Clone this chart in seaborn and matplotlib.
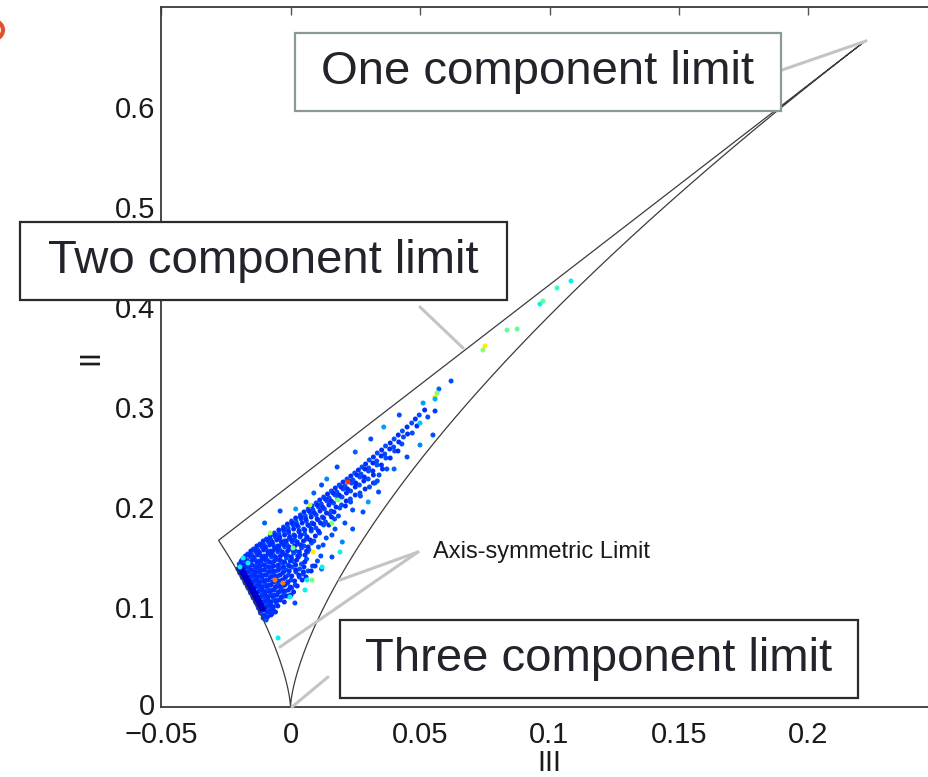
import numpy as np
import pandas as pd
import matplotlib
matplotlib.use("Agg")
import matplotlib.pyplot as plt
from matplotlib.patches import Rectangle, Circle
from matplotlib.lines import Line2D
from matplotlib.transforms import ScaledTranslation
import seaborn as sns

# ---------------------------------------------------------------- data
x_ticks = [-0.05, 0.0, 0.05, 0.1, 0.15, 0.2]
x_tick_labels = ["\u22120.05", "0", "0.05", "0.1", "0.15", "0.2"]
y_ticks = [0.0, 0.1, 0.2, 0.3, 0.4, 0.5, 0.6]
y_tick_labels = ["0", "0.1", "0.2", "0.3", "0.4", "0.5", "0.6"]

# eigenvalues of the anisotropy tensor b_ij at the corners of the map
eig_isotropic = [0.0, 0.0, 0.0]
eig_two_comp_axi = [1 / 6, 1 / 6, -1 / 3]
eig_one_comp = [2 / 3, -1 / 3, -1 / 3]

# measured states (III, II), bulk of the samples
bulk_III = [
    -0.0106, -0.0094,
    -0.0116, -0.0101, -0.0087, -0.0072,
    -0.0124, -0.0110, -0.0097, -0.0081, -0.0064,
    -0.0133, -0.0119, -0.0104, -0.0090, -0.0073, -0.0055,
    -0.0144, -0.0129, -0.0114, -0.0098, -0.0083, -0.0066, -0.0049, -0.0031,
    -0.0154, -0.0139, -0.0125, -0.0109, -0.0094, -0.0078, -0.0062, -0.0045, -0.0026, -0.0008,
    -0.0164, -0.0150, -0.0135, -0.0120, -0.0104, -0.0089, -0.0071, -0.0055, -0.0037, -0.0020, 0.0004,
    -0.0175, -0.0160, -0.0146, -0.0131, -0.0116, -0.0100, -0.0084, -0.0067, -0.0050, -0.0032, -0.0012, 0.0018,
    -0.0185, -0.0170, -0.0156, -0.0141, -0.0126, -0.0110, -0.0093, -0.0077, -0.0059, -0.0041, -0.0022, 0.0002, 0.0034,
    -0.0196, -0.0181, -0.0166, -0.0151, -0.0135, -0.0119, -0.0103, -0.0086, -0.0068, -0.0049, -0.0030, -0.0008, 0.0021, 0.0049,
    -0.0203, -0.0188, -0.0173, -0.0158, -0.0142, -0.0126, -0.0110, -0.0093, -0.0075, -0.0057, -0.0038, -0.0017, 0.0006, 0.0035, 0.0068,
    -0.0198, -0.0183, -0.0168, -0.0152, -0.0137, -0.0121, -0.0104, -0.0087, -0.0069, -0.0051, -0.0031, -0.0010, 0.0014, 0.0042, 0.0085,
    -0.0184, -0.0169, -0.0154, -0.0139, -0.0123, -0.0107, -0.0090, -0.0073, -0.0055, -0.0036, -0.0016, 0.0006, 0.0031, 0.0062, 0.0104,
    -0.0165, -0.0150, -0.0134, -0.0118, -0.0102, -0.0085, -0.0067, -0.0049, -0.0030, -0.0010, 0.0012, 0.0036, 0.0066, 0.0117,
    -0.0143, -0.0127, -0.0111, -0.0094, -0.0077, -0.0059, -0.0041, -0.0022, -0.0002, 0.0019, 0.0043, 0.0071, 0.0108,
    -0.0118, -0.0102, -0.0085, -0.0068, -0.0050, -0.0032, -0.0013, 0.0007, 0.0028, 0.0052, 0.0081, 0.0126,
    -0.0093, -0.0076, -0.0059, -0.0041, -0.0023, -0.0004, 0.0016, 0.0037, 0.0061, 0.0090, 0.0138,
    -0.0062, -0.0044, -0.0026, -0.0007, 0.0013, 0.0033, 0.0055, 0.0080, 0.0112, 0.0160,
    -0.0027, -0.0009, 0.0010, 0.0030, 0.0051, 0.0073, 0.0098, 0.0128, 0.0172,
    0.0004, 0.0022, 0.0041, 0.0061, 0.0083, 0.0107, 0.0135, 0.0170, 0.0210,
    0.0038, 0.0057, 0.0077, 0.0099, 0.0123, 0.0151, 0.0185,
    0.0068, 0.0087, 0.0108, 0.0131, 0.0157, 0.0190, 0.0240,
    0.0099, 0.0119, 0.0141, 0.0166, 0.0197, 0.0232,
    0.0128, 0.0149, 0.0172, 0.0199, 0.0231, 0.0270,
    0.0158, 0.0179, 0.0203, 0.0232, 0.0268,
    0.0188, 0.0210, 0.0236, 0.0266, 0.0305,
    0.0218, 0.0241, 0.0268, 0.0300, 0.0335,
    0.0248, 0.0272, 0.0301, 0.0342,
    0.0276, 0.0302, 0.0334, 0.0372,
    0.0304, 0.0333, 0.0368,
    0.0335, 0.0364, 0.0402,
    0.0367, 0.0398, 0.0430,
    0.0400, 0.0436,
    0.0432, 0.0470,
    0.0468,
    0.0497, 0.0530,
]
bulk_II = [
    0.089, 0.087,
    0.094, 0.092, 0.095, 0.093,
    0.099, 0.097, 0.100, 0.098, 0.096,
    0.104, 0.102, 0.105, 0.103, 0.101, 0.104,
    0.109, 0.107, 0.110, 0.108, 0.106, 0.109, 0.107, 0.110,
    0.114, 0.112, 0.115, 0.113, 0.111, 0.114, 0.112, 0.115, 0.113, 0.111,
    0.119, 0.117, 0.120, 0.118, 0.116, 0.119, 0.117, 0.120, 0.118, 0.116, 0.119,
    0.124, 0.122, 0.125, 0.123, 0.121, 0.124, 0.122, 0.125, 0.123, 0.121, 0.124, 0.122,
    0.129, 0.127, 0.130, 0.128, 0.126, 0.129, 0.127, 0.130, 0.128, 0.126, 0.129, 0.127, 0.130,
    0.134, 0.132, 0.135, 0.133, 0.131, 0.134, 0.132, 0.135, 0.133, 0.131, 0.134, 0.132, 0.135, 0.133,
    0.138, 0.137, 0.140, 0.138, 0.136, 0.139, 0.137, 0.140, 0.138, 0.136, 0.139, 0.137, 0.140, 0.138, 0.136,
    0.143, 0.142, 0.145, 0.143, 0.141, 0.144, 0.142, 0.145, 0.143, 0.141, 0.144, 0.142, 0.145, 0.143, 0.141,
    0.148, 0.147, 0.150, 0.148, 0.146, 0.149, 0.147, 0.150, 0.148, 0.146, 0.149, 0.147, 0.150, 0.148, 0.146,
    0.153, 0.152, 0.155, 0.153, 0.151, 0.154, 0.152, 0.155, 0.153, 0.151, 0.154, 0.152, 0.155, 0.151,
    0.158, 0.157, 0.160, 0.158, 0.156, 0.159, 0.157, 0.160, 0.158, 0.156, 0.159, 0.157, 0.160,
    0.163, 0.162, 0.165, 0.163, 0.161, 0.164, 0.162, 0.165, 0.163, 0.161, 0.164, 0.162,
    0.168, 0.167, 0.170, 0.168, 0.166, 0.169, 0.167, 0.170, 0.168, 0.166, 0.169,
    0.174, 0.173, 0.176, 0.174, 0.172, 0.175, 0.173, 0.176, 0.174, 0.172,
    0.180, 0.179, 0.182, 0.180, 0.178, 0.181, 0.179, 0.182, 0.178,
    0.186, 0.185, 0.188, 0.186, 0.184, 0.187, 0.185, 0.188, 0.184,
    0.192, 0.191, 0.194, 0.192, 0.190, 0.193, 0.191,
    0.198, 0.197, 0.200, 0.198, 0.196, 0.199, 0.197,
    0.204, 0.203, 0.206, 0.204, 0.202, 0.205,
    0.210, 0.209, 0.212, 0.210, 0.208, 0.211,
    0.216, 0.215, 0.218, 0.216, 0.214,
    0.222, 0.221, 0.224, 0.222, 0.220,
    0.228, 0.227, 0.230, 0.228, 0.226,
    0.234, 0.233, 0.236, 0.232,
    0.240, 0.239, 0.242, 0.238,
    0.247, 0.246, 0.249,
    0.254, 0.253, 0.256,
    0.261, 0.260, 0.263,
    0.268, 0.270,
    0.276, 0.274,
    0.284,
    0.292, 0.290,
]

# further samples lying between the rows above (slightly lighter blue)
fill_III = [
    -0.0104, -0.0089, -0.0076,
    -0.0117, -0.0103, -0.0089, -0.0073, -0.0058,
    -0.0126, -0.0112, -0.0097, -0.0082, -0.0066, -0.0049,
    -0.0136, -0.0122, -0.0106, -0.0091, -0.0075, -0.0058, -0.0040, -0.0024,
    -0.0146, -0.0132, -0.0117, -0.0102, -0.0086, -0.0070, -0.0053, -0.0036, -0.0017, 0.0002,
    -0.0156, -0.0142, -0.0127, -0.0112, -0.0096, -0.0080, -0.0063, -0.0046, -0.0028, -0.0008, 0.0012,
    -0.0167, -0.0153, -0.0138, -0.0123, -0.0108, -0.0092, -0.0076, -0.0059, -0.0041, -0.0022, -0.0001, 0.0026,
    -0.0177, -0.0163, -0.0148, -0.0133, -0.0118, -0.0102, -0.0085, -0.0068, -0.0050, -0.0031, -0.0010, 0.0016, 0.0045,
    -0.0188, -0.0173, -0.0158, -0.0143, -0.0127, -0.0111, -0.0094, -0.0077, -0.0059, -0.0040, -0.0019, 0.0005, 0.0032, 0.0060,
    -0.0198, -0.0180, -0.0165, -0.0150, -0.0134, -0.0118, -0.0101, -0.0084, -0.0066, -0.0047, -0.0027, -0.0005, 0.0020, 0.0050, 0.0080,
    -0.0195, -0.0180, -0.0165, -0.0150, -0.0134, -0.0118, -0.0101, -0.0084, -0.0066, -0.0047, -0.0027, -0.0005, 0.0020, 0.0052, 0.0095,
    -0.0190, -0.0176, -0.0161, -0.0146, -0.0130, -0.0114, -0.0097, -0.0080, -0.0062, -0.0043, -0.0023, -0.0001, 0.0024, 0.0055,
    -0.0174, -0.0159, -0.0143, -0.0127, -0.0111, -0.0094, -0.0076, -0.0058, -0.0039, -0.0019, 0.0003, 0.0028, 0.0056,
    -0.0153, -0.0137, -0.0121, -0.0104, -0.0087, -0.0069, -0.0050, -0.0031, -0.0011, 0.0010, 0.0034, 0.0062,
    -0.0130, -0.0114, -0.0097, -0.0080, -0.0062, -0.0044, -0.0025, -0.0005, 0.0016, 0.0040, 0.0068,
    -0.0105, -0.0088, -0.0071, -0.0053, -0.0035, -0.0016, 0.0004, 0.0026, 0.0050, 0.0076,
    -0.0078, -0.0060, -0.0042, -0.0023, -0.0003, 0.0017, 0.0039, 0.0064, 0.0096,
    -0.0045, -0.0027, -0.0008, 0.0012, 0.0033, 0.0055, 0.0080, 0.0108,
    -0.0012, 0.0006, 0.0025, 0.0045, 0.0067, 0.0090, 0.0116, 0.0148,
    0.0020, 0.0039, 0.0059, 0.0080, 0.0103, 0.0128, 0.0158,
    0.0052, 0.0071, 0.0092, 0.0114, 0.0139, 0.0168,
    0.0083, 0.0103, 0.0124, 0.0148, 0.0176, 0.0212,
    0.0113, 0.0134, 0.0157, 0.0183, 0.0215,
    0.0143, 0.0164, 0.0188, 0.0216, 0.0250,
    0.0173, 0.0195, 0.0220, 0.0250, 0.0288,
    0.0203, 0.0226, 0.0252, 0.0283, 0.0320,
    0.0233, 0.0256, 0.0285, 0.0320,
    0.0262, 0.0287, 0.0318, 0.0355,
    0.0290, 0.0318, 0.0351,
    0.0320, 0.0350, 0.0385,
    0.0352, 0.0383, 0.0415,
    0.0385, 0.0418,
    0.0416, 0.0452,
    0.0450, 0.0488,
    0.0482,
    0.0518,
]
fill_II = [
    0.091, 0.090, 0.092,
    0.096, 0.097, 0.095, 0.097, 0.095,
    0.101, 0.102, 0.100, 0.102, 0.100, 0.101,
    0.106, 0.107, 0.105, 0.107, 0.105, 0.106, 0.107, 0.105,
    0.111, 0.112, 0.110, 0.112, 0.110, 0.111, 0.112, 0.110, 0.111, 0.112,
    0.116, 0.117, 0.115, 0.117, 0.115, 0.116, 0.117, 0.115, 0.116, 0.117, 0.115,
    0.121, 0.122, 0.120, 0.122, 0.120, 0.121, 0.122, 0.120, 0.121, 0.122, 0.120, 0.121,
    0.126, 0.127, 0.125, 0.127, 0.125, 0.126, 0.127, 0.125, 0.126, 0.127, 0.125, 0.126, 0.127,
    0.131, 0.132, 0.130, 0.132, 0.130, 0.131, 0.132, 0.130, 0.131, 0.132, 0.130, 0.131, 0.132, 0.130,
    0.136, 0.137, 0.135, 0.137, 0.135, 0.136, 0.137, 0.135, 0.136, 0.137, 0.135, 0.136, 0.137, 0.135, 0.136,
    0.141, 0.142, 0.140, 0.142, 0.140, 0.141, 0.142, 0.140, 0.141, 0.142, 0.140, 0.141, 0.142, 0.140, 0.141,
    0.146, 0.147, 0.145, 0.147, 0.145, 0.146, 0.147, 0.145, 0.146, 0.147, 0.145, 0.146, 0.147, 0.145,
    0.151, 0.152, 0.150, 0.152, 0.150, 0.151, 0.152, 0.150, 0.151, 0.152, 0.150, 0.151, 0.152,
    0.156, 0.157, 0.155, 0.157, 0.155, 0.156, 0.157, 0.155, 0.156, 0.157, 0.155, 0.156,
    0.161, 0.162, 0.160, 0.162, 0.160, 0.161, 0.162, 0.160, 0.161, 0.162, 0.160,
    0.166, 0.167, 0.165, 0.167, 0.165, 0.166, 0.167, 0.165, 0.166, 0.167,
    0.171, 0.172, 0.170, 0.172, 0.170, 0.171, 0.172, 0.170, 0.171,
    0.177, 0.178, 0.176, 0.178, 0.176, 0.177, 0.178, 0.176,
    0.183, 0.184, 0.182, 0.184, 0.182, 0.183, 0.184, 0.182,
    0.189, 0.190, 0.188, 0.190, 0.188, 0.189, 0.190,
    0.195, 0.196, 0.194, 0.196, 0.194, 0.195,
    0.201, 0.202, 0.200, 0.202, 0.200, 0.201,
    0.207, 0.208, 0.206, 0.208, 0.206,
    0.213, 0.214, 0.212, 0.214, 0.212,
    0.219, 0.220, 0.218, 0.220, 0.218,
    0.225, 0.226, 0.224, 0.226, 0.224,
    0.231, 0.232, 0.230, 0.232,
    0.237, 0.238, 0.236, 0.238,
    0.243, 0.244, 0.242,
    0.250, 0.251, 0.249,
    0.257, 0.258, 0.256,
    0.264, 0.265,
    0.272, 0.273,
    0.280, 0.281,
    0.288,
    0.297,
]

# loose samples scattered along both edges of the band
edge_III = [0.0240, 0.0200, 0.0160, 0.0120, 0.0280, 0.0300, 0.0340, 0.0400,
            0.0450, 0.0500, 0.0550,
            -0.0100, -0.0040, 0.0020, 0.0060, 0.0090, 0.0120, 0.0140,
            0.0180, 0.0250, 0.0310, 0.0360, 0.0420]
edge_II = [0.178, 0.165, 0.150, 0.138, 0.195, 0.205, 0.215, 0.238,
           0.250, 0.262, 0.272,
           0.184, 0.196, 0.198, 0.205, 0.214, 0.222, 0.228,
           0.240, 0.255, 0.268, 0.280, 0.292]
edge_level = [0.20, 0.26, 0.20, 0.22, 0.20, 0.28, 0.20, 0.22,
              0.20, 0.26, 0.20,
              0.22, 0.20, 0.28, 0.20, 0.22, 0.20, 0.26,
              0.20, 0.22, 0.20, 0.28, 0.20]

# densest samples, hugging the axisymmetric (III < 0) branch
core_III = [-0.0117, -0.0103, -0.0125, -0.0111, -0.0133, -0.0119, -0.0141, -0.0127,
            -0.0149, -0.0135, -0.0157, -0.0143, -0.0166, -0.0152, -0.0174, -0.0160,
            -0.0183, -0.0169, -0.0192, -0.0178, -0.0200, -0.0186]
core_II = [0.098, 0.098, 0.102, 0.102, 0.106, 0.106, 0.110, 0.110,
           0.114, 0.114, 0.118, 0.118, 0.122, 0.122, 0.126, 0.126,
           0.130, 0.130, 0.134, 0.134, 0.138, 0.138]

# individually coloured samples (colour level on the jet scale)
accent_III = [-0.0079, 0.0075, 0.0087, 0.0160, 0.0183, 0.0191, 0.0122, 0.0064,
              -0.0029, -0.0060, 0.0056, -0.0002, 0.0017, -0.0048, 0.0222, 0.0326,
              -0.0183, -0.0164, -0.0195, 0.0010, 0.0083,
              0.1083, 0.1029, 0.0963, 0.0975, 0.0836, 0.0875, 0.0751, 0.0743,
              0.0620, 0.0573, 0.0566, 0.0558, 0.0558, 0.0512, 0.0558, 0.0500]
accent_II = [0.174, 0.202, 0.155, 0.184, 0.207, 0.155, 0.140, 0.127,
             0.124, 0.127, 0.117, 0.110, 0.104, 0.069, 0.225, 0.224,
             0.149, 0.144, 0.140, 0.159, 0.127,
             0.426, 0.419, 0.403, 0.406, 0.377, 0.378, 0.361, 0.357,
             0.326, 0.318, 0.314, 0.310, 0.308, 0.304, 0.296, 0.284]
accent_level = [0.55, 0.58, 0.66, 0.50, 0.50, 0.36, 0.36, 0.36,
                0.78, 0.78, 0.36, 0.36, 0.20, 0.36, 0.85, 0.20,
                0.36, 0.36, 0.36, 0.50, 0.50,
                0.36, 0.42, 0.36, 0.46, 0.47, 0.47, 0.66, 0.52,
                0.20, 0.22, 0.50, 0.66, 0.30, 0.28, 0.18, 0.32]

# ---------------------------------------------------------------- layout
W, H = 929, 777
sns.set_theme(style="white")
plt.rcParams["font.family"] = ["Liberation Sans", "DejaVu Sans"]

fig = plt.figure(figsize=(W / 100, H / 100), dpi=100)
ax = fig.add_axes([161 / W, 70 / H, 777 / W, 700 / H])


def fxy(px, py):
    """pixel position -> figure fraction"""
    return px / W, 1 - py / H


# realizability boundary of the invariant map
s = np.linspace(0.0, 1.0, 200)[:, None]
e0, e2, e1 = map(np.asarray, (eig_isotropic, eig_two_comp_axi, eig_one_comp))
path = np.vstack([
    e0 + s * (e2 - e0),    # isotropic -> two-component axisymmetric
    e2 + s * (e1 - e2),    # two-component limit
    e1 + s * (e0 - e1),    # one-component -> isotropic (axisymmetric, III > 0)
])
boundary = pd.DataFrame({
    "III": (path ** 3).sum(axis=1),
    "II": (path ** 2).sum(axis=1),
})
sns.lineplot(data=boundary, x="III", y="II", sort=False, estimator=None,
             color="#3c3c3c", linewidth=0.9, ax=ax)

# samples
samples = pd.concat([
    pd.DataFrame({"III": bulk_III, "II": bulk_II, "level": 0.20}),
    pd.DataFrame({"III": fill_III, "II": fill_II, "level": 0.17}),
    pd.DataFrame({"III": edge_III, "II": edge_II, "level": edge_level}),
    pd.DataFrame({"III": core_III, "II": core_II, "level": 0.07}),
    pd.DataFrame({"III": accent_III, "II": accent_II, "level": accent_level}),
], ignore_index=True)
sns.scatterplot(data=samples, x="III", y="II", hue="level",
                palette=matplotlib.colormaps["jet"], hue_norm=(0, 1),
                s=13, linewidth=0, legend=False, ax=ax)

# axes styling
ax.set_xlim(-0.05, 0.25)
ax.set_ylim(0.0, 0.7)
ax.set_xticks(x_ticks, x_tick_labels)
ax.set_yticks(y_ticks, y_tick_labels)
ax.tick_params(direction="in", length=6, width=1, color="#555555",
               labelsize=21, labelcolor="#1a1a1a", top=True, right=True)
ax.tick_params(axis="x", pad=10)
ax.tick_params(axis="y", pad=4)
for sp in ax.spines.values():
    sp.set_color("#3a3a3a")
    sp.set_linewidth(1.3)
ax.set_xlabel("III", fontsize=21, color="#1a1a1a", labelpad=0)
ax.set_ylabel("II", fontsize=21, color="#1a1a1a", labelpad=8)

# lift the y "0" a little so it sits just above the x tick labels
zero_lbl = ax.get_yticklabels()[0]
zero_lbl.set_transform(zero_lbl.get_transform() +
                       ScaledTranslation(0, 3 / 100, fig.dpi_scale_trans))

# ---------------------------------------------------------------- annotations
pointer_kw = dict(color="#c4c4c4", linewidth=2.2, transform=fig.transFigure, zorder=5)
for (x0, y0), (x1, y1) in [((782, 70), (866, 41)),
                           ((420, 307), (463, 348)),
                           ((328, 677), (292, 707)),
                           ((418, 552), (340, 580)),
                           ((418, 552), (280, 647))]:
    (a0, b0), (a1, b1) = fxy(x0, y0), fxy(x1, y1)
    fig.add_artist(Line2D([a0, a1], [b0, b1], **pointer_kw))


def label_box(left, top, right, bottom, text, edge):
    x0, y1 = fxy(left, top)
    x1, y0 = fxy(right, bottom)
    fig.add_artist(Rectangle((x0, y0), x1 - x0, y1 - y0, transform=fig.transFigure,
                             facecolor="white", edgecolor=edge, linewidth=1.6, zorder=10))
    fig.text((x0 + x1) / 2, (y0 + y1) / 2, text, ha="center", va="center",
             fontsize=34, color="#23232b", zorder=11)


label_box(295, 33, 781, 111, "One component limit", "#8a9b91")
label_box(20, 222, 507, 300, "Two component limit", "#2a2a2a")
label_box(340, 620, 858, 698, "Three component limit", "#2a2a2a")

tx, ty = fxy(433, 552)
fig.text(tx, ty, "Axis-symmetric Limit", ha="left", va="center",
         fontsize=17, color="#1a1a1a", zorder=11)

# panel marker at the left margin
cx, cy = fxy(-9, 30)
fig.add_artist(Circle((cx, cy), 12 / W, transform=fig.transFigure, fill=False,
                      edgecolor="#e0512b", linewidth=3, zorder=12))

fig.savefig("out.png", dpi=100)
